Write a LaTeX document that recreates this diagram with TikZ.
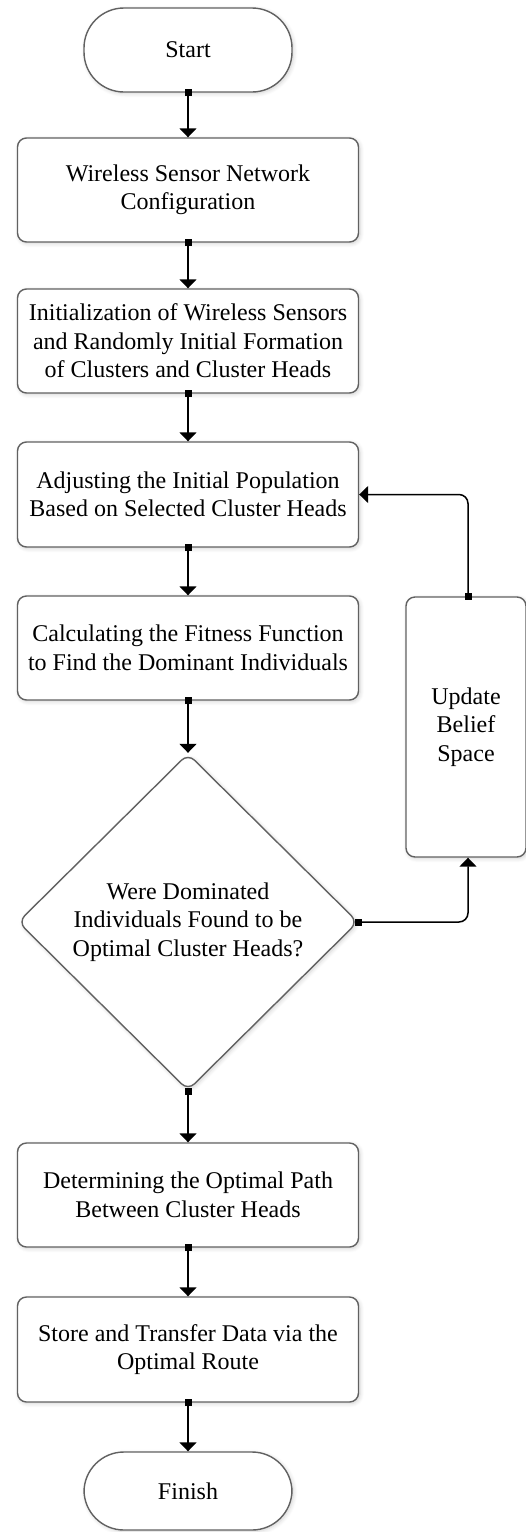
\documentclass[tikz,border=0pt]{standalone}
\usepackage{fontspec}
\setmainfont{Liberation Serif}
\usetikzlibrary{arrows.meta,shapes.geometric,shadows.blur}
\begin{document}
\begin{tikzpicture}[x=1pt,y=-1pt,
  base/.style={draw=black!62, line width=1.4pt, fill=white, align=center,
    font=\fontsize{24}{28.5}\selectfont, inner sep=0pt,
    blur shadow={shadow blur steps=6, shadow xshift=1.5pt, shadow yshift=-1.5pt, shadow opacity=18, shadow blur radius=4pt}},
  procbox/.style={base, rectangle, rounded corners=9pt, minimum width=341pt, minimum height=104pt},
  termbox/.style={base, rectangle, rounded corners=40pt, minimum width=208pt},
  decbox/.style={base, diamond, rounded corners=9pt, minimum width=340pt, minimum height=337pt, aspect=1},
  conn/.style={draw=black, line width=1.5pt, {Square[length=7pt,width=7pt]}-{Triangle[length=9pt,width=17pt]}, shorten <=-3.5pt},
  loopconn/.style={conn, rounded corners=9pt}
]
\useasboundingbox (0,0) rectangle (526,1532);
\node[termbox, minimum height=84pt] (start) at (188,50) {Start};
\node[procbox] (b1) at (188,190) {Wireless Sensor Network\\Configuration};
\node[procbox] (b2) at (188,341) {Initialization of Wireless Sensors\\and Randomly Initial Formation\\of Clusters and Cluster Heads};
\node[procbox, minimum height=105pt] (b3) at (188,494.5) {Adjusting the Initial Population\\Based on Selected Cluster Heads};
\node[procbox] (b4) at (188,648) {Calculating the Fitness Function\\to Find the Dominant Individuals};
\node[decbox] (dia) at (188,922) {Were Dominated\\Individuals Found to be\\Optimal Cluster Heads?};
\node[base, rectangle, rounded corners=9pt, minimum width=120pt, minimum height=260pt] (upd) at (466,727) {Update\\Belief\\Space};
\node[procbox] (b5) at (188,1195) {Determining the Optimal Path\\Between Cluster Heads};
\node[procbox, minimum height=105pt] (b6) at (188,1349.5) {Store and Transfer Data via the\\Optimal Route};
\node[termbox, minimum height=78pt] (finish) at (188,1491) {Finish};
\coordinate (c1) at (468,922);
\coordinate (c2) at (468,494.5);
\draw[conn] (start.south) -- (b1.north);
\draw[conn] (b1.south) -- (b2.north);
\draw[conn] (b2.south) -- (b3.north);
\draw[conn] (b3.south) -- (b4.north);
\draw[conn] (b4.south) -- (dia.north);
\draw[conn] (dia.south) -- (b5.north);
\draw[conn] (b5.south) -- (b6.north);
\draw[conn] (b6.south) -- (finish.north);
\draw[loopconn] (dia.east) -- (c1) -- (upd.south -| c1);
\draw[loopconn] (upd.north -| c1) -- (c2) -- (b3.east);
\end{tikzpicture}
\end{document}
